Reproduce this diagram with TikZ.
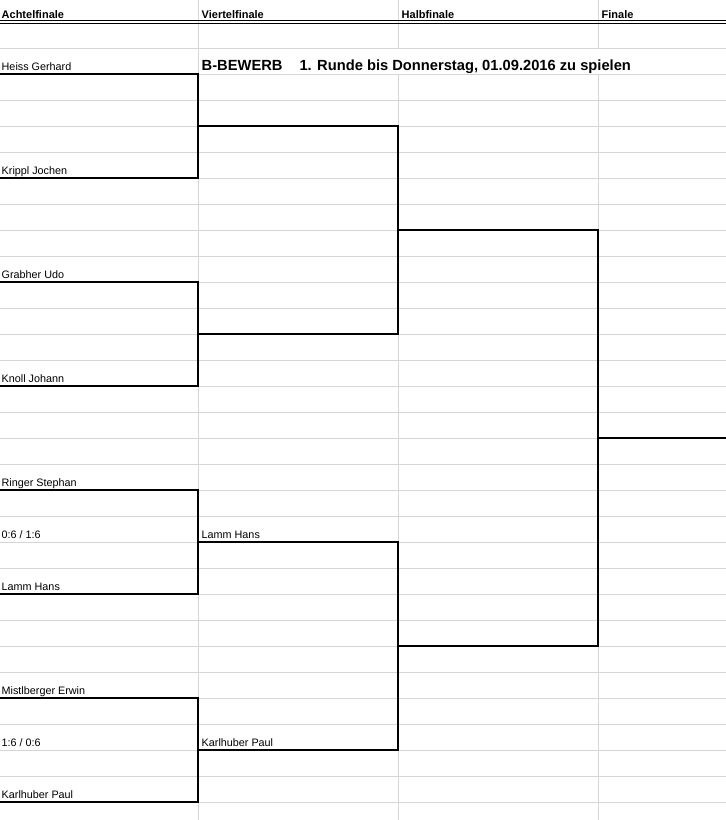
\documentclass[tikz,border=0pt]{standalone}
\usepackage{fontspec}
\setmainfont{Liberation Sans}
\definecolor{gridgray}{RGB}{214,214,214}
\begin{document}
\begin{tikzpicture}[x=1pt,y=-1pt,
  gridline/.style={draw=gridgray,line width=1pt},
  bracket/.style={draw=black,line width=2.3pt,line join=miter},
  hdr/.style={anchor=base west,inner sep=0pt,font=\fontsize{11}{13}\selectfont\bfseries},
  player/.style={anchor=base west,inner sep=0pt,font=\fontsize{10.8}{12}\selectfont},
  titletext/.style={anchor=base west,inner sep=0pt,font=\fontsize{14.7}{17}\selectfont\bfseries}]
\useasboundingbox[fill=white] (0,0) rectangle (726,820);
% horizontal gridlines
\foreach \k in {1,...,30} {
  \draw[gridline] (0,{22+26*\k}) -- (726,{22+26*\k});
}
% vertical gridlines
\draw[gridline] (198,0) -- (198,820);
\draw[gridline] (398,0) -- (398,48) (398,74) -- (398,820);
\draw[gridline] (598,0) -- (598,48) (598,74) -- (598,820);
% header double line
\draw[black,line width=0.9pt] (0,20.7) -- (726,20.7);
\draw[black,line width=0.9pt] (0,23.3) -- (726,23.3);
% headers
\node[hdr] (h1) at (1.5,18.7) {Achtelfinale};
\node[hdr] (h2) at (201.5,18.7) {Viertelfinale};
\node[hdr] (h3) at (401.5,18.7) {Halbfinale};
\node[hdr] (h4) at (601.5,18.7) {Finale};
% title
\node[titletext] (title) at (201.5,70) {B-BEWERB\hspace{17pt}1. Runde bis Donnerstag, 01.09.2016 zu spielen};
% names
\node[player] (n1) at (1.5,70) {Heiss Gerhard};
\node[player] (n2) at (1.5,174) {Krippl Jochen};
\node[player] (n3) at (1.5,278) {Grabher Udo};
\node[player] (n4) at (1.5,382) {Knoll Johann};
\node[player] (n5) at (1.5,486) {Ringer Stephan};
\node[player] (sc1) at (1.5,538) {0:6 / 1:6};
\node[player] (n6) at (1.5,590) {Lamm Hans};
\node[player] (n7) at (1.5,694) {Mistlberger Erwin};
\node[player] (sc2) at (1.5,746) {1:6 / 0:6};
\node[player] (n8) at (1.5,798) {Karlhuber Paul};
\node[player] (w3) at (201.5,538) {Lamm Hans};
\node[player] (w4) at (201.5,746) {Karlhuber Paul};
% bracket coordinates
\coordinate (p1) at (0,74);
\coordinate (p2) at (0,178);
\coordinate (p3) at (0,282);
\coordinate (p4) at (0,386);
\coordinate (p5) at (0,490);
\coordinate (p6) at (0,594);
\coordinate (p7) at (0,698);
\coordinate (p8) at (0,802);
\coordinate (q1) at (198,126);
\coordinate (q2) at (198,334);
\coordinate (q3) at (198,542);
\coordinate (q4) at (198,750);
\coordinate (s1) at (398,230);
\coordinate (s2) at (398,646);
\coordinate (f) at (598,438);
\coordinate (fe) at (727,438);
% brackets
\draw[bracket] (p1) -| (q1) |- (p2);
\draw[bracket] (p3) -| (q2) |- (p4);
\draw[bracket] (p5) -| (q3) |- (p6);
\draw[bracket] (p7) -| (q4) |- (p8);
\draw[bracket] (q1) -| (s1) |- (q2);
\draw[bracket] (q3) -| (s2) |- (q4);
\draw[bracket] (s1) -| (f) |- (s2);
\draw[bracket] (f) -- (fe);
\end{tikzpicture}
\end{document}
